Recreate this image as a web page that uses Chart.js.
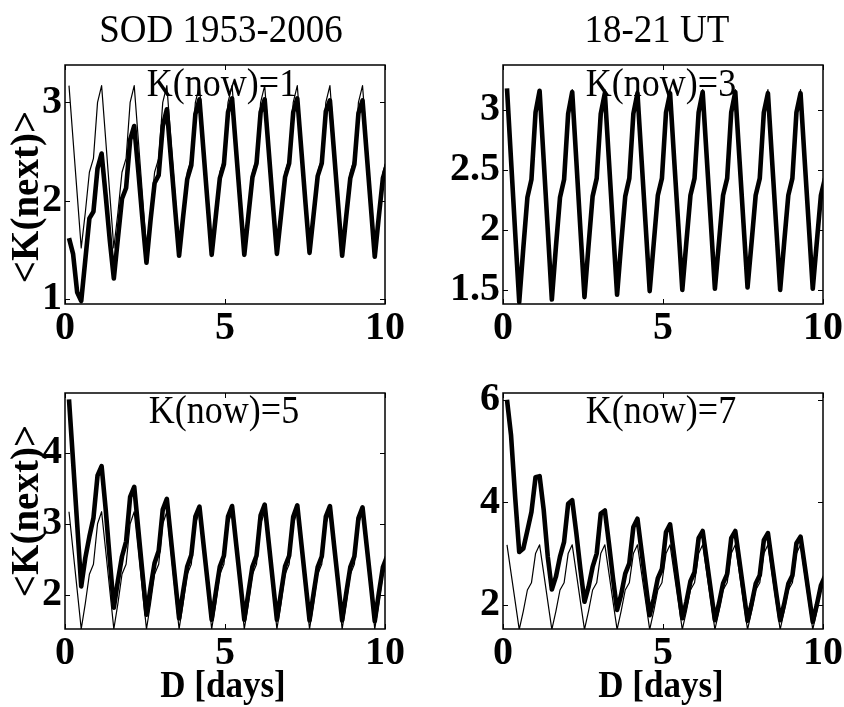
<!DOCTYPE html>
<html lang="en">
<head>
<meta charset="UTF-8">
<title>K(next) vs D, SOD 1953-2006, 18-21 UT</title>
<script src="https://cdn.jsdelivr.net/npm/chart.js"></script>
<style>
  body { margin: 0; background: #fff; }
  #fig { position: relative; width: 844px; height: 707px; overflow: hidden;
         font-family: "Liberation Serif", "Times New Roman", serif; color: #000; }
  #fig canvas { position: absolute; left: 0; top: 0; }
  .txt { position: absolute; white-space: nowrap; line-height: 1;
         transform-origin: 50% 84%; transform: translateX(-50%) scaleY(1.1); }
  .ylab { position: absolute; white-space: nowrap; line-height: 1; font-weight: bold;
          transform: translate(-50%, -50%) rotate(-90deg) scaleY(1.05); }
  .bold { font-weight: bold; }
</style>
</head>
<body>
<div id="fig">
  <canvas id="c1" width="844" height="707"></canvas>
  <canvas id="c3" width="844" height="707"></canvas>
  <canvas id="c5" width="844" height="707"></canvas>
  <canvas id="c7" width="844" height="707"></canvas>

  <div class="txt" style="left:221px; top:11px; font-size:37px">SOD 1953-2006</div>
  <div class="txt" style="left:657px; top:11px; font-size:37px">18-21 UT</div>

  <div class="txt" style="left:222px; top:66px; font-size:36px">K(now)=1</div>
  <div class="txt" style="left:661px; top:66px; font-size:36px">K(now)=3</div>
  <div class="txt" style="left:224px; top:393px; font-size:36px">K(now)=5</div>
  <div class="txt" style="left:661px; top:393px; font-size:36px">K(now)=7</div>

  <div class="ylab" style="left:24px; top:197px; font-size:39px">&lt;K(next)&gt;</div>
  <div class="ylab" style="left:24px; top:511px; font-size:39px">&lt;K(next)&gt;</div>

  <div class="txt bold" style="left:223px; top:668px; font-size:35px">D [days]</div>
  <div class="txt bold" style="left:661px; top:668px; font-size:35px">D [days]</div>
</div>

<script>
// lag in days (3-hour steps)
const days = [
  0.125, 0.252, 0.380, 0.507, 0.635, 0.762, 0.889, 1.017,
  1.144, 1.272, 1.399, 1.526, 1.654, 1.781, 1.909, 2.036,
  2.163, 2.291, 2.418, 2.546, 2.673, 2.800, 2.928, 3.055,
  3.183, 3.310, 3.437, 3.565, 3.692, 3.820, 3.947, 4.074,
  4.202, 4.329, 4.457, 4.584, 4.711, 4.839, 4.966, 5.094,
  5.221, 5.348, 5.476, 5.603, 5.731, 5.858, 5.985, 6.113,
  6.240, 6.368, 6.495, 6.622, 6.750, 6.877, 7.005, 7.132,
  7.259, 7.387, 7.514, 7.642, 7.769, 7.896, 8.024, 8.151,
  8.279, 8.406, 8.533, 8.661, 8.788, 8.916, 9.043, 9.170,
  9.298, 9.425, 9.553, 9.680, 9.807, 9.935, 10.062
];

// thin line, same in every panel
const kMean = [
  3.17, 2.62, 2.07, 1.52, 1.88, 2.29, 2.43, 3.00,
  3.17, 2.62, 2.07, 1.52, 1.88, 2.29, 2.43, 3.00,
  3.17, 2.62, 2.07, 1.52, 1.88, 2.29, 2.43, 3.00,
  3.17, 2.62, 2.07, 1.52, 1.88, 2.29, 2.43, 3.00,
  3.17, 2.62, 2.07, 1.52, 1.88, 2.29, 2.43, 3.00,
  3.17, 2.62, 2.07, 1.52, 1.88, 2.29, 2.43, 3.00,
  3.17, 2.62, 2.07, 1.52, 1.88, 2.29, 2.43, 3.00,
  3.17, 2.62, 2.07, 1.52, 1.88, 2.29, 2.43, 3.00,
  3.17, 2.62, 2.07, 1.52, 1.88, 2.29, 2.43, 3.00,
  3.17, 2.62, 2.07, 1.52, 1.88, 2.29, 2.43
];

// thick lines, one per K(now)
const kNow1 = [
  1.62, 1.46, 1.07, 0.98, 1.40, 1.82, 1.89, 2.33,
  2.48, 2.05, 1.60, 1.21, 1.62, 2.02, 2.13, 2.62,
  2.76, 2.30, 1.82, 1.37, 1.80, 2.18, 2.26, 2.76,
  2.93, 2.43, 1.93, 1.44, 1.84, 2.22, 2.36, 2.88,
  3.03, 2.50, 1.97, 1.45, 1.84, 2.23, 2.37, 2.90,
  3.04, 2.51, 1.98, 1.45, 1.85, 2.24, 2.38, 2.90,
  3.03, 2.50, 1.97, 1.46, 1.85, 2.24, 2.38, 2.90,
  3.04, 2.51, 1.98, 1.47, 1.86, 2.25, 2.38, 2.91,
  3.02, 2.50, 1.97, 1.44, 1.84, 2.23, 2.37, 2.89,
  3.02, 2.49, 1.96, 1.43, 1.84, 2.23, 2.37
];
const kNow3 = [
  3.18, 2.58, 1.98, 1.40, 1.85, 2.27, 2.42, 2.98,
  3.16, 2.58, 2.00, 1.42, 1.86, 2.27, 2.42, 2.97,
  3.15, 2.58, 2.01, 1.44, 1.87, 2.28, 2.43, 2.97,
  3.14, 2.58, 2.02, 1.46, 1.88, 2.28, 2.43, 2.97,
  3.14, 2.59, 2.04, 1.49, 1.89, 2.29, 2.43, 2.98,
  3.14, 2.59, 2.05, 1.50, 1.90, 2.29, 2.43, 2.98,
  3.15, 2.60, 2.06, 1.51, 1.90, 2.29, 2.43, 2.98,
  3.15, 2.60, 2.06, 1.52, 1.90, 2.29, 2.43, 2.98,
  3.14, 2.59, 2.05, 1.50, 1.90, 2.29, 2.43, 2.98,
  3.14, 2.59, 2.05, 1.51, 1.90, 2.29, 2.43
];
const kNow5 = [
  4.75, 3.88, 3.00, 2.12, 2.52, 2.82, 3.08, 3.68,
  3.81, 3.20, 2.50, 1.82, 2.20, 2.54, 2.75, 3.38,
  3.52, 2.92, 2.32, 1.72, 2.10, 2.45, 2.62, 3.20,
  3.35, 2.79, 2.23, 1.67, 2.05, 2.40, 2.56, 3.10,
  3.24, 2.71, 2.18, 1.65, 2.03, 2.40, 2.55, 3.10,
  3.25, 2.72, 2.19, 1.65, 2.03, 2.40, 2.55, 3.12,
  3.27, 2.73, 2.19, 1.65, 2.03, 2.40, 2.55, 3.10,
  3.26, 2.72, 2.18, 1.64, 2.02, 2.39, 2.54, 3.10,
  3.25, 2.71, 2.18, 1.64, 2.02, 2.39, 2.54, 3.08,
  3.23, 2.70, 2.17, 1.63, 2.02, 2.39, 2.54
];
const kNow7 = [
  6.00, 5.30, 4.10, 3.03, 3.10, 3.45, 3.81, 4.49,
  4.51, 3.85, 2.94, 2.30, 2.55, 2.94, 3.23, 3.97,
  4.04, 3.40, 2.70, 2.06, 2.35, 2.74, 3.00, 3.78,
  3.84, 3.20, 2.52, 1.90, 2.20, 2.61, 2.81, 3.52,
  3.68, 3.05, 2.42, 1.80, 2.12, 2.52, 2.70, 3.42,
  3.57, 2.96, 2.35, 1.74, 2.06, 2.46, 2.64, 3.30,
  3.44, 2.86, 2.28, 1.70, 2.03, 2.42, 2.60, 3.30,
  3.44, 2.86, 2.28, 1.69, 2.02, 2.41, 2.58, 3.26,
  3.40, 2.82, 2.25, 1.70, 2.02, 2.41, 2.57, 3.20,
  3.33, 2.78, 2.22, 1.67, 2.00, 2.38, 2.56
];

const xTicks = [0, 5, 10];
const yTicks1 = [1, 2, 3];
const yTicks3 = [1.5, 2, 2.5, 3];
const yTicks5 = [2, 3, 4];
const yTicks7 = [2, 4, 6];

Chart.defaults.font.family = '"Liberation Serif", "Times New Roman", serif';
Chart.defaults.color = '#000';

const W = 844, H = 707;
const AXW = 60;   // room for y tick labels
const AXH = 50;   // room for x tick labels
const tickFont = { size: 40, weight: 'bold' };

// axes box + inward ticks on all four sides, MATLAB style
const boxPlugin = {
  id: 'boxPlugin',
  afterDraw(chart) {
    const { ctx, chartArea: a, scales } = chart;
    const len = 5;
    ctx.save();
    ctx.strokeStyle = '#000';
    ctx.lineWidth = 1;
    ctx.beginPath();
    scales.x.ticks.forEach(t => {
      const px = Math.round(scales.x.getPixelForValue(t.value)) + 0.5;
      ctx.moveTo(px, a.bottom); ctx.lineTo(px, a.bottom - len);
      ctx.moveTo(px, a.top); ctx.lineTo(px, a.top + len);
    });
    scales.y.ticks.forEach(t => {
      const py = Math.round(scales.y.getPixelForValue(t.value)) + 0.5;
      ctx.moveTo(a.left, py); ctx.lineTo(a.left + len, py);
      ctx.moveTo(a.right, py); ctx.lineTo(a.right - len, py);
    });
    ctx.stroke();
    ctx.lineWidth = 1.5;
    ctx.strokeRect(a.left, a.top, a.right - a.left, a.bottom - a.top);
    ctx.restore();
  }
};

const toPoints = arr => days.map((d, i) => ({ x: d, y: arr[i] }));

function panel(id, area, yMin, yMax, yTicks, values) {
  const [left, top, right, bottom] = area;
  new Chart(document.getElementById(id), {
    type: 'line',
    data: {
      datasets: [
        { data: toPoints(kMean), borderColor: '#000', borderWidth: 1.2,
          pointRadius: 0, tension: 0, clip: 0, borderJoinStyle: 'round' },
        { data: toPoints(values), borderColor: '#000', borderWidth: 4.6,
          pointRadius: 0, tension: 0, clip: 0, borderJoinStyle: 'round' }
      ]
    },
    options: {
      responsive: false,
      animation: false,
      devicePixelRatio: 1,
      layout: { padding: { left: left - AXW, top: top, right: W - right, bottom: H - bottom - AXH } },
      plugins: { legend: { display: false }, tooltip: { enabled: false }, title: { display: false } },
      scales: {
        x: {
          type: 'linear', min: 0, max: 10,
          grid: { display: false, drawTicks: false },
          border: { display: false },
          ticks: { autoSkip: false, maxRotation: 0, padding: 1, font: tickFont,
                   callback: v => String(v) },
          afterBuildTicks: s => { s.ticks = xTicks.map(v => ({ value: v })); },
          afterFit: s => { s.height = AXH; s.paddingLeft = 0; s.paddingRight = 0; }
        },
        y: {
          type: 'linear', min: yMin, max: yMax,
          grid: { display: false, drawTicks: false },
          border: { display: false },
          ticks: { autoSkip: false, padding: 3, font: tickFont,
                   callback: v => String(v) },
          afterBuildTicks: s => { s.ticks = yTicks.map(v => ({ value: v })); },
          afterFit: s => { s.width = AXW; s.paddingTop = 0; s.paddingBottom = 0; }
        }
      }
    },
    plugins: [boxPlugin]
  });
}

panel('c1', [65, 65, 385, 304], 0.95, 3.38, yTicks1, kNow1);
panel('c3', [503, 65, 823, 304], 1.383, 3.375, yTicks3, kNow3);
panel('c5', [65, 393, 385, 629], 1.52, 4.84, yTicks5, kNow5);
panel('c7', [503, 393, 823, 629], 1.53, 6.13, yTicks7, kNow7);
</script>
</body>
</html>
